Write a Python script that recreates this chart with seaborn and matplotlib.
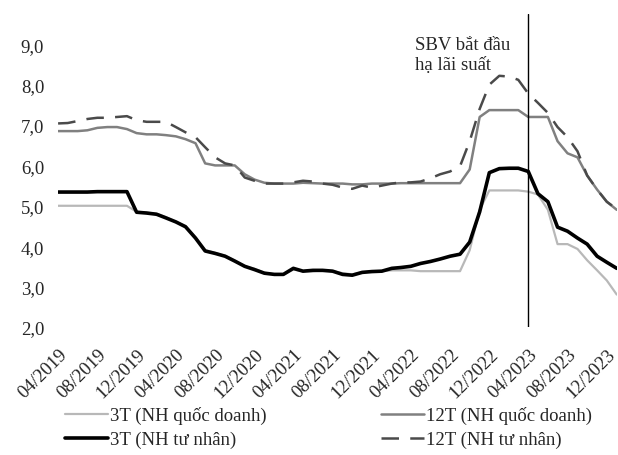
import matplotlib
matplotlib.use("Agg")
import matplotlib.pyplot as plt
import matplotlib.dates as mdates
import pandas as pd
import seaborn as sns

# monthly observations, 04/2019 -> 01/2024
months = pd.date_range("2019-04-01", periods=58, freq="MS")

t12_qd = [6.85, 6.85, 6.85, 6.87, 6.93, 6.95, 6.95, 6.90, 6.80, 6.77,
          6.77, 6.75, 6.72, 6.65, 6.55, 6.05, 6.00, 6.00, 6.00, 5.78,
          5.65, 5.57, 5.55, 5.55, 5.55, 5.57, 5.56, 5.55, 5.55, 5.55,
          5.53, 5.53, 5.55, 5.55, 5.55, 5.56, 5.56, 5.56, 5.56, 5.56,
          5.56, 5.56, 5.90, 7.20, 7.37, 7.37, 7.37, 7.37, 7.20, 7.20,
          7.20, 6.60, 6.30, 6.20, 5.75, 5.40, 5.10, 4.90]
t12_tn = [7.04, 7.05, 7.10, 7.15, 7.18, 7.18, 7.20, 7.22, 7.12, 7.08,
          7.08, 7.08, 6.95, 6.82, 6.70, 6.45, 6.20, 6.05, 6.00, 5.70,
          5.62, 5.55, 5.55, 5.55, 5.58, 5.62, 5.60, 5.55, 5.52, 5.45,
          5.42, 5.50, 5.45, 5.50, 5.55, 5.58, 5.58, 5.60, 5.68, 5.78,
          5.85, 5.98, 6.60, 7.40, 8.00, 8.22, 8.20, 8.12, 7.78, 7.55,
          7.30, 6.95, 6.70, 6.35, 5.75, 5.40, 5.10, 4.92]
t3_qd = [5.00, 5.00, 5.00, 5.00, 5.00, 5.00, 5.00, 5.00, 4.85, 4.83,
         4.80, 4.72, 4.60, 4.50, 4.20, 3.90, 3.83, 3.76, 3.64, 3.50,
         3.44, 3.34, 3.30, 3.30, 3.42, 3.38, 3.38, 3.40, 3.38, 3.33,
         3.30, 3.35, 3.37, 3.38, 3.40, 3.40, 3.40, 3.38, 3.38, 3.38,
         3.38, 3.38, 3.90, 4.90, 5.38, 5.38, 5.38, 5.38, 5.35, 5.28,
         4.90, 4.05, 4.05, 3.93, 3.65, 3.40, 3.15, 2.80]
t3_tn = [5.34, 5.34, 5.34, 5.34, 5.35, 5.35, 5.35, 5.35, 4.84, 4.82,
         4.79, 4.70, 4.60, 4.48, 4.20, 3.88, 3.82, 3.75, 3.63, 3.50,
         3.42, 3.33, 3.30, 3.30, 3.45, 3.38, 3.40, 3.40, 3.38, 3.30,
         3.28, 3.35, 3.37, 3.38, 3.45, 3.47, 3.50, 3.57, 3.62, 3.68,
         3.75, 3.80, 4.10, 4.85, 5.82, 5.92, 5.93, 5.93, 5.85, 5.30,
         5.10, 4.47, 4.37, 4.20, 4.05, 3.75, 3.60, 3.45]

y_ticks = [2, 3, 4, 5, 6, 7, 8, 9]
cut_date = pd.Timestamp("2023-04-01")

sns.set_theme(style="white")
plt.rcParams["font.family"] = ["Liberation Serif", "DejaVu Serif"]

fig = plt.figure(figsize=(6.18, 4.56), dpi=100)
ax = fig.add_axes([0.094, 0.281, 0.904, 0.686])

df = pd.DataFrame({"month": months, "3qd": t3_qd, "12qd": t12_qd,
                   "3tn": t3_tn, "12tn": t12_tn})

sns.lineplot(data=df, x="month", y="3qd", ax=ax, color="#b8b8b8", lw=1.6,
             label="3T (NH quốc doanh)")
sns.lineplot(data=df, x="month", y="12qd", ax=ax, color="#808080", lw=1.8,
             label="12T (NH quốc doanh)")
sns.lineplot(data=df, x="month", y="3tn", ax=ax, color="black", lw=2.6,
             label="3T (NH tư nhân)")
sns.lineplot(data=df, x="month", y="12tn", ax=ax, color="#4a4a4a", lw=1.8,
             label="12T (NH tư nhân)")
ax.lines[-1].set_dashes((7, 4.5))

ax.axvline(cut_date, color="black", lw=1)
ax.text(pd.Timestamp("2022-04-15"), 8.30, "SBV bắt đầu\nhạ lãi suất",
        fontsize=13.5, va="bottom", ha="left", linespacing=1.2)

ax.set_xlim(months[0], months[-1])
ax.set_ylim(2, 9.75)
ax.set_yticks(y_ticks)
ax.set_yticklabels([f"{v:.1f}".replace(".", ",") for v in y_ticks])
ax.xaxis.set_major_locator(mdates.MonthLocator(bymonth=[4, 8, 12]))
ax.xaxis.set_major_formatter(mdates.DateFormatter("%m/%Y"))
for lab in ax.get_xticklabels():
    lab.set_rotation(45)
    lab.set_ha("right")
    lab.set_rotation_mode("anchor")
ax.tick_params(axis="both", labelsize=13.5, length=0)
ax.tick_params(axis="y", pad=10)
ax.tick_params(axis="x", pad=13)
ax.set_xlabel("")
ax.set_ylabel("")
sns.despine(ax=ax, left=True, bottom=True)

# legend filled column-wise: quốc doanh on top row, tư nhân below
handles, labels = ax.get_legend_handles_labels()
order = [0, 2, 1, 3]
ax.legend([handles[i] for i in order], [labels[i] for i in order],
          loc="upper left", bbox_to_anchor=(-0.018, -0.2), ncol=2,
          frameon=False, fontsize=13.5, handlelength=2.3,
          handletextpad=0.1, columnspacing=6.1, labelspacing=0.35)

fig.savefig("out.png", dpi=100)
